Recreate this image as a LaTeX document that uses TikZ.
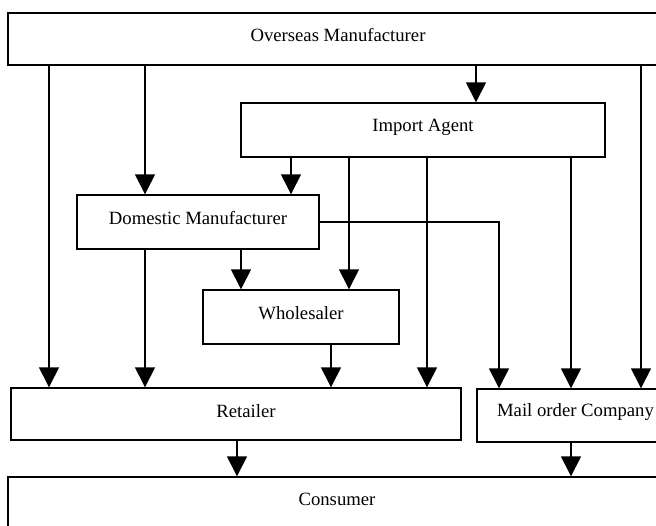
\documentclass[tikz,border=0pt]{standalone}
\usepackage{fontspec}
\setmainfont{Liberation Serif}
\usetikzlibrary{arrows.meta}
\begin{document}
\begin{tikzpicture}[x=1pt,y=-1pt,
  box/.style={draw,line width=1.4pt,inner sep=0pt,minimum width=#1},
  lbl/.style={font=\fontsize{18.7}{22}\selectfont,inner sep=0pt},
  arr/.style={line width=1.4pt,-{Triangle[width=20pt,length=20pt]}},
  ln/.style={line width=1.4pt}]
\clip (0,0) rectangle (656,525);
\fill[white] (0,0) rectangle (656,525);
% boxes
\node[box=660pt,minimum height=52pt] (ov) at (338,39) {};
\node[box=364pt,minimum height=54pt] (imp) at (423,130) {};
\node[box=242pt,minimum height=54pt] (dom) at (198,222) {};
\node[box=196pt,minimum height=54pt] (who) at (301,317) {};
\node[box=450pt,minimum height=52pt] (ret) at (236,414) {};
\node[box=197pt,minimum height=53pt] (mail) at (575.5,415.5) {};
\node[box=660pt,minimum height=53pt] (con) at (338,503.5) {};
% labels
\node[lbl] (ovt) at (338,35.5) {Overseas Manufacturer};
\node[lbl] (impt) at (423,127) {Import Agent};
\node[lbl] (domt) at (198,218) {Domestic Manufacturer};
\node[lbl] (whot) at (301,313) {Wholesaler};
\node[lbl] (rett) at (246,411) {Retailer};
\node[lbl] (mailt) at (575.5,412) {Mail order Company};
\node[lbl] (cont) at (337,499) {Consumer};
% x positions
\coordinate (x49) at (49,0);
\coordinate (x145) at (145,0);
\coordinate (x237) at (237,0);
\coordinate (x241) at (241,0);
\coordinate (x291) at (291,0);
\coordinate (x331) at (331,0);
\coordinate (x349) at (349,0);
\coordinate (x427) at (427,0);
\coordinate (x476) at (476,0);
\coordinate (x499) at (499,0);
\coordinate (x571) at (571,0);
\coordinate (x641) at (641,0);
% connectors
\draw[arr] (ov.south -| x49) -- (ret.north -| x49);
\draw[arr] (ov.south -| x145) -- (dom.north -| x145);
\draw[arr] (ov.south -| x476) -- (imp.north -| x476);
\draw[arr] (ov.south -| x641) -- (mail.north -| x641);
\draw[arr] (imp.south -| x291) -- (dom.north -| x291);
\draw[arr] (imp.south -| x349) -- (who.north -| x349);
\draw[arr] (imp.south -| x427) -- (ret.north -| x427);
\draw[arr] (imp.south -| x571) -- (mail.north -| x571);
\draw[arr] (dom.east) -| (mail.north -| x499);
\draw[arr] (dom.south -| x145) -- (ret.north -| x145);
\draw[arr] (dom.south -| x241) -- (who.north -| x241);
\draw[arr] (who.south -| x331) -- (ret.north -| x331);
\draw[arr] (ret.south -| x237) -- (con.north -| x237);
\draw[arr] (mail.south -| x571) -- (con.north -| x571);
\end{tikzpicture}
\end{document}
